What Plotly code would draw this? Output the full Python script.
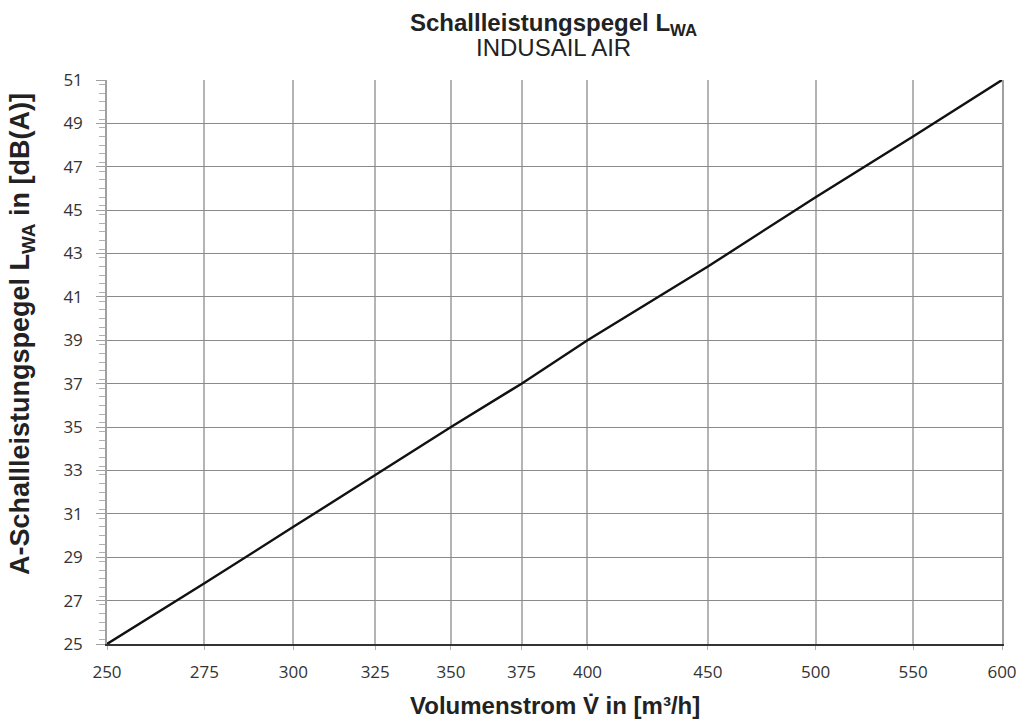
import plotly.graph_objects as go

flow = [250, 275, 300, 325, 350, 375, 400, 450, 500, 550, 600]
lwa = [25.0, 27.8, 30.4, 32.8, 35.0, 37.0, 39.0, 42.4, 45.6, 48.4, 51.0]
x_ticks = [250, 275, 300, 325, 350, 375, 400, 450, 500, 550, 600]
y_ticks = list(range(25, 52, 2))

title_main = "Schallleistungspegel L<sub>WA</sub>"
title_sub = "INDUSAIL AIR"
x_title = "Volumenstrom V̇ in [m³/h]"
y_title = "A-Schallleistungspegel L<sub>WA</sub> in [dB(A)]"

# page layout (body margin removed via post_script)
PL, PR, PT, PB = 107, 1002, 80, 644
FIG_W, FIG_H = 1024, 720

fig = go.Figure()
fig.add_trace(go.Scatter(x=flow, y=lwa, mode="lines",
                         line=dict(color="#111111", width=2.4), showlegend=False))

tick_font = dict(family="Open Sans, DejaVu Sans, sans-serif", size=17, color="#333333")
title_font = "Liberation Sans, Arial, sans-serif"

fig.update_layout(
    template="none",
    width=FIG_W, height=FIG_H,
    margin=dict(l=PL, r=FIG_W - PR, t=PT, b=FIG_H - PB, pad=0),
    paper_bgcolor="white", plot_bgcolor="white",
    xaxis=dict(type="log", range=[2.39794, 2.778151], automargin=False,
               tickvals=x_ticks, ticktext=[str(v) for v in x_ticks],
               showgrid=True, gridcolor="#b4b4b4", gridwidth=2,
               showline=True, linecolor="#333333", linewidth=1.5, mirror=False,
               ticks="outside", ticklen=4, tickcolor="#b4b4b4", ticklabelstandoff=8,
               tickfont=tick_font, zeroline=False),
    yaxis=dict(range=[25, 51], tickvals=y_ticks, automargin=False,
               showgrid=True, gridcolor="#8a8a8a", gridwidth=1.2,
               showline=True, linecolor="#a0a0a0", linewidth=1.5, mirror=True,
               ticks="outside", ticklen=9, tickcolor="#a0a0a0", ticklabelstandoff=10,
               minor=dict(dtick=0.4, ticks="outside", ticklen=6, tickcolor="#b0b0b0", showgrid=False),
               tickfont=tick_font, zeroline=False),
)

plot_h = PB - PT
plot_w = PR - PL

def py(pix):
    return (PB - pix) / plot_h

def px(pix):
    return (pix - PL) / plot_w

fig.add_annotation(text="<b>" + title_main + "</b>", x=px(553), xref="paper", y=py(24), yref="paper",
                   showarrow=False, yanchor="middle",
                   font=dict(family=title_font, size=24, color="#222222"))
fig.add_annotation(text=title_sub, x=px(553), xref="paper", y=py(48), yref="paper",
                   showarrow=False, yanchor="middle",
                   font=dict(family=title_font, size=24, color="#222222"))
fig.add_annotation(text="<b>" + x_title + "</b>", x=px(555), xref="paper", y=py(705), yref="paper",
                   showarrow=False, yanchor="middle",
                   font=dict(family=title_font, size=24, color="#222222"))
fig.add_annotation(text="<b>" + y_title + "</b>", x=px(22), xref="paper", y=py(334), yref="paper",
                   showarrow=False, textangle=-90, xanchor="center", yanchor="middle",
                   font=dict(family=title_font, size=27, color="#222222"))

fig.write_html("out.html", config={"displayModeBar": False},
               post_script="document.body.style.margin='0';document.body.style.overflow='hidden';")
